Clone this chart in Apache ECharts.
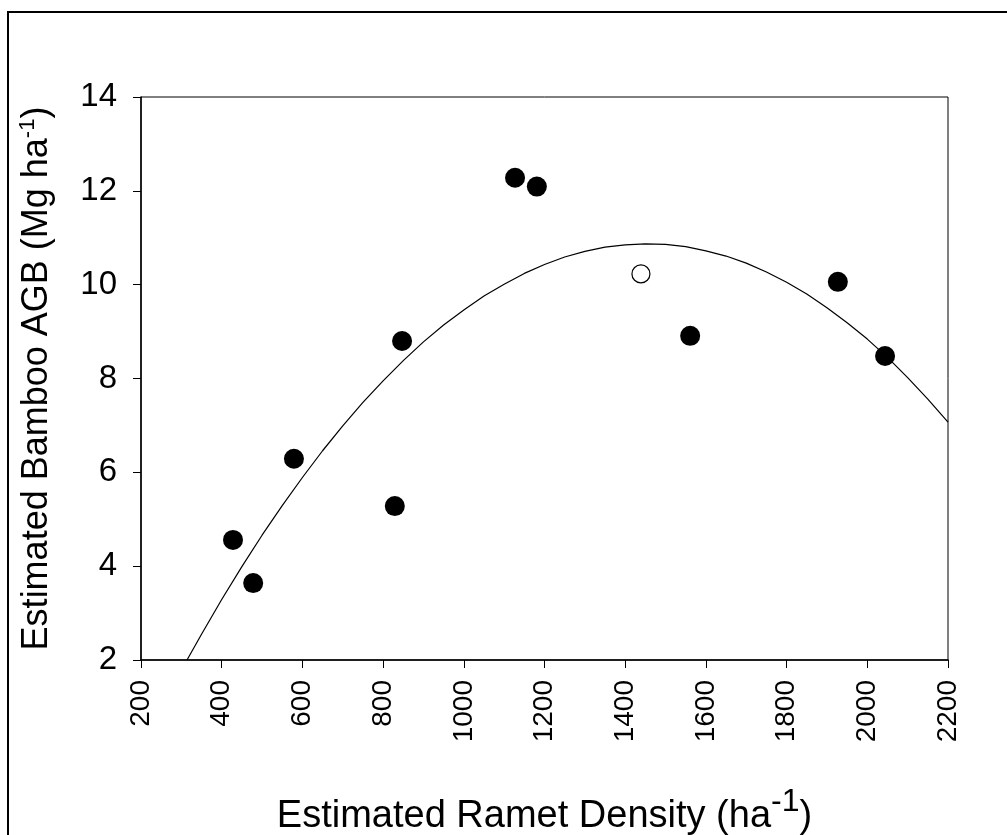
<!doctype html>
<html>
<head>
<meta charset="utf-8">
<title>Bamboo AGB vs ramet density</title>
<script src="https://cdn.jsdelivr.net/npm/echarts@6/dist/echarts.min.js"></script>
<style>
  html, body { margin: 0; padding: 0; background: #fff; }
  #main { width: 1007px; height: 835px; }
</style>
</head>
<body>
<div id="main"></div>
<script>
// observed plots (filled) and the one open-circle plot
var plotDensity = [428, 478, 579, 829, 847, 1127, 1181, 1561, 1927, 2044];
var plotAGB     = [4.56, 3.64, 6.29, 5.28, 8.80, 12.28, 12.09, 8.91, 10.06, 8.48];
var openDensity = [1439];
var openAGB     = [10.23];

// fitted curve
var fitDensity = [314, 350, 400, 450, 500, 550, 600, 650, 700, 750, 800, 850, 900, 950, 1000, 1050, 1100, 1150, 1200, 1250,
                  1300, 1350, 1400, 1450, 1500, 1550, 1600, 1650, 1700, 1750, 1800, 1850, 1900, 1950, 2000, 2050, 2100, 2150, 2200];
var fitAGB     = [2.00, 2.55, 3.29, 3.99, 4.66, 5.29, 5.89, 6.46, 6.99, 7.49, 7.95, 8.38, 8.78, 9.14, 9.46, 9.76, 10.01, 10.24, 10.43, 10.59,
                  10.71, 10.80, 10.85, 10.87, 10.86, 10.81, 10.72, 10.61, 10.46, 10.27, 10.05, 9.80, 9.51, 9.19, 8.84, 8.45, 8.02, 7.56, 7.07];

function pairs(xs, ys) {
  var out = [];
  for (var i = 0; i < xs.length; i++) out.push([xs[i], ys[i]]);
  return out;
}

var myChart = echarts.init(document.getElementById('main'));
var font = '"Liberation Sans", Arial, sans-serif';

var option = {
  backgroundColor: '#fff',
  animation: false,
  graphic: [{
    type: 'rect',
    shape: { x: 8, y: 12, width: 1020, height: 840 },
    style: { fill: 'none', stroke: '#000', lineWidth: 2 }
  }],
  grid: {
    left: 141, right: 59, top: 97, bottom: 175,
    outerBoundsMode: 'none',
    containLabel: false,
    show: true, borderColor: '#000', borderWidth: 1
  },
  xAxis: {
    type: 'value',
    min: 200, max: 2200, interval: 200,
    name: 'Estimated Ramet Density (ha{sup|-1})',
    nameLocation: 'middle',
    nameGap: 126,
    nameTextStyle: {
      fontFamily: font, fontSize: 38, color: '#000',
      rich: { sup: { fontFamily: font, fontSize: 32, color: '#000', padding: [0, 0, 30, 0] } }
    },
    axisLine: { lineStyle: { color: '#000', width: 1.5 } },
    axisTick: { inside: false, length: 8, lineStyle: { color: '#000' } },
    axisLabel: {
      rotate: 90, margin: 20, fontFamily: font, fontSize: 28, color: '#000',
      formatter: function (v) { return String(v); }
    },
    splitLine: { show: false }
  },
  yAxis: {
    type: 'value',
    min: 2, max: 14, interval: 2,
    name: 'Estimated Bamboo AGB (Mg ha{sup|-1})',
    nameLocation: 'middle',
    nameRotate: 90,
    nameGap: 84,
    nameTextStyle: {
      fontFamily: font, fontSize: 36, color: '#000',
      rich: { sup: { fontFamily: font, fontSize: 22, color: '#000', padding: [0, 0, 18, 0] } }
    },
    axisLine: { lineStyle: { color: '#000', width: 1.5 } },
    axisTick: { inside: false, length: 8, lineStyle: { color: '#000' } },
    axisLabel: {
      margin: 24, fontFamily: font, fontSize: 33, color: '#000',
      formatter: function (v) { return String(v); }
    },
    splitLine: { show: false }
  },
  series: [
    {
      type: 'line',
      data: pairs(fitDensity, fitAGB),
      smooth: false,
      symbol: 'none',
      lineStyle: { color: '#000', width: 1.2 },
      z: 2
    },
    {
      type: 'scatter',
      data: pairs(plotDensity, plotAGB),
      symbol: 'circle',
      symbolSize: 20,
      itemStyle: { color: '#000', opacity: 1 },
      z: 3
    },
    {
      type: 'scatter',
      data: pairs(openDensity, openAGB),
      symbol: 'circle',
      symbolSize: 18,
      itemStyle: { color: '#fff', borderColor: '#000', borderWidth: 1.2, opacity: 1 },
      z: 3
    }
  ]
};
myChart.setOption(option);
</script>
</body>
</html>
